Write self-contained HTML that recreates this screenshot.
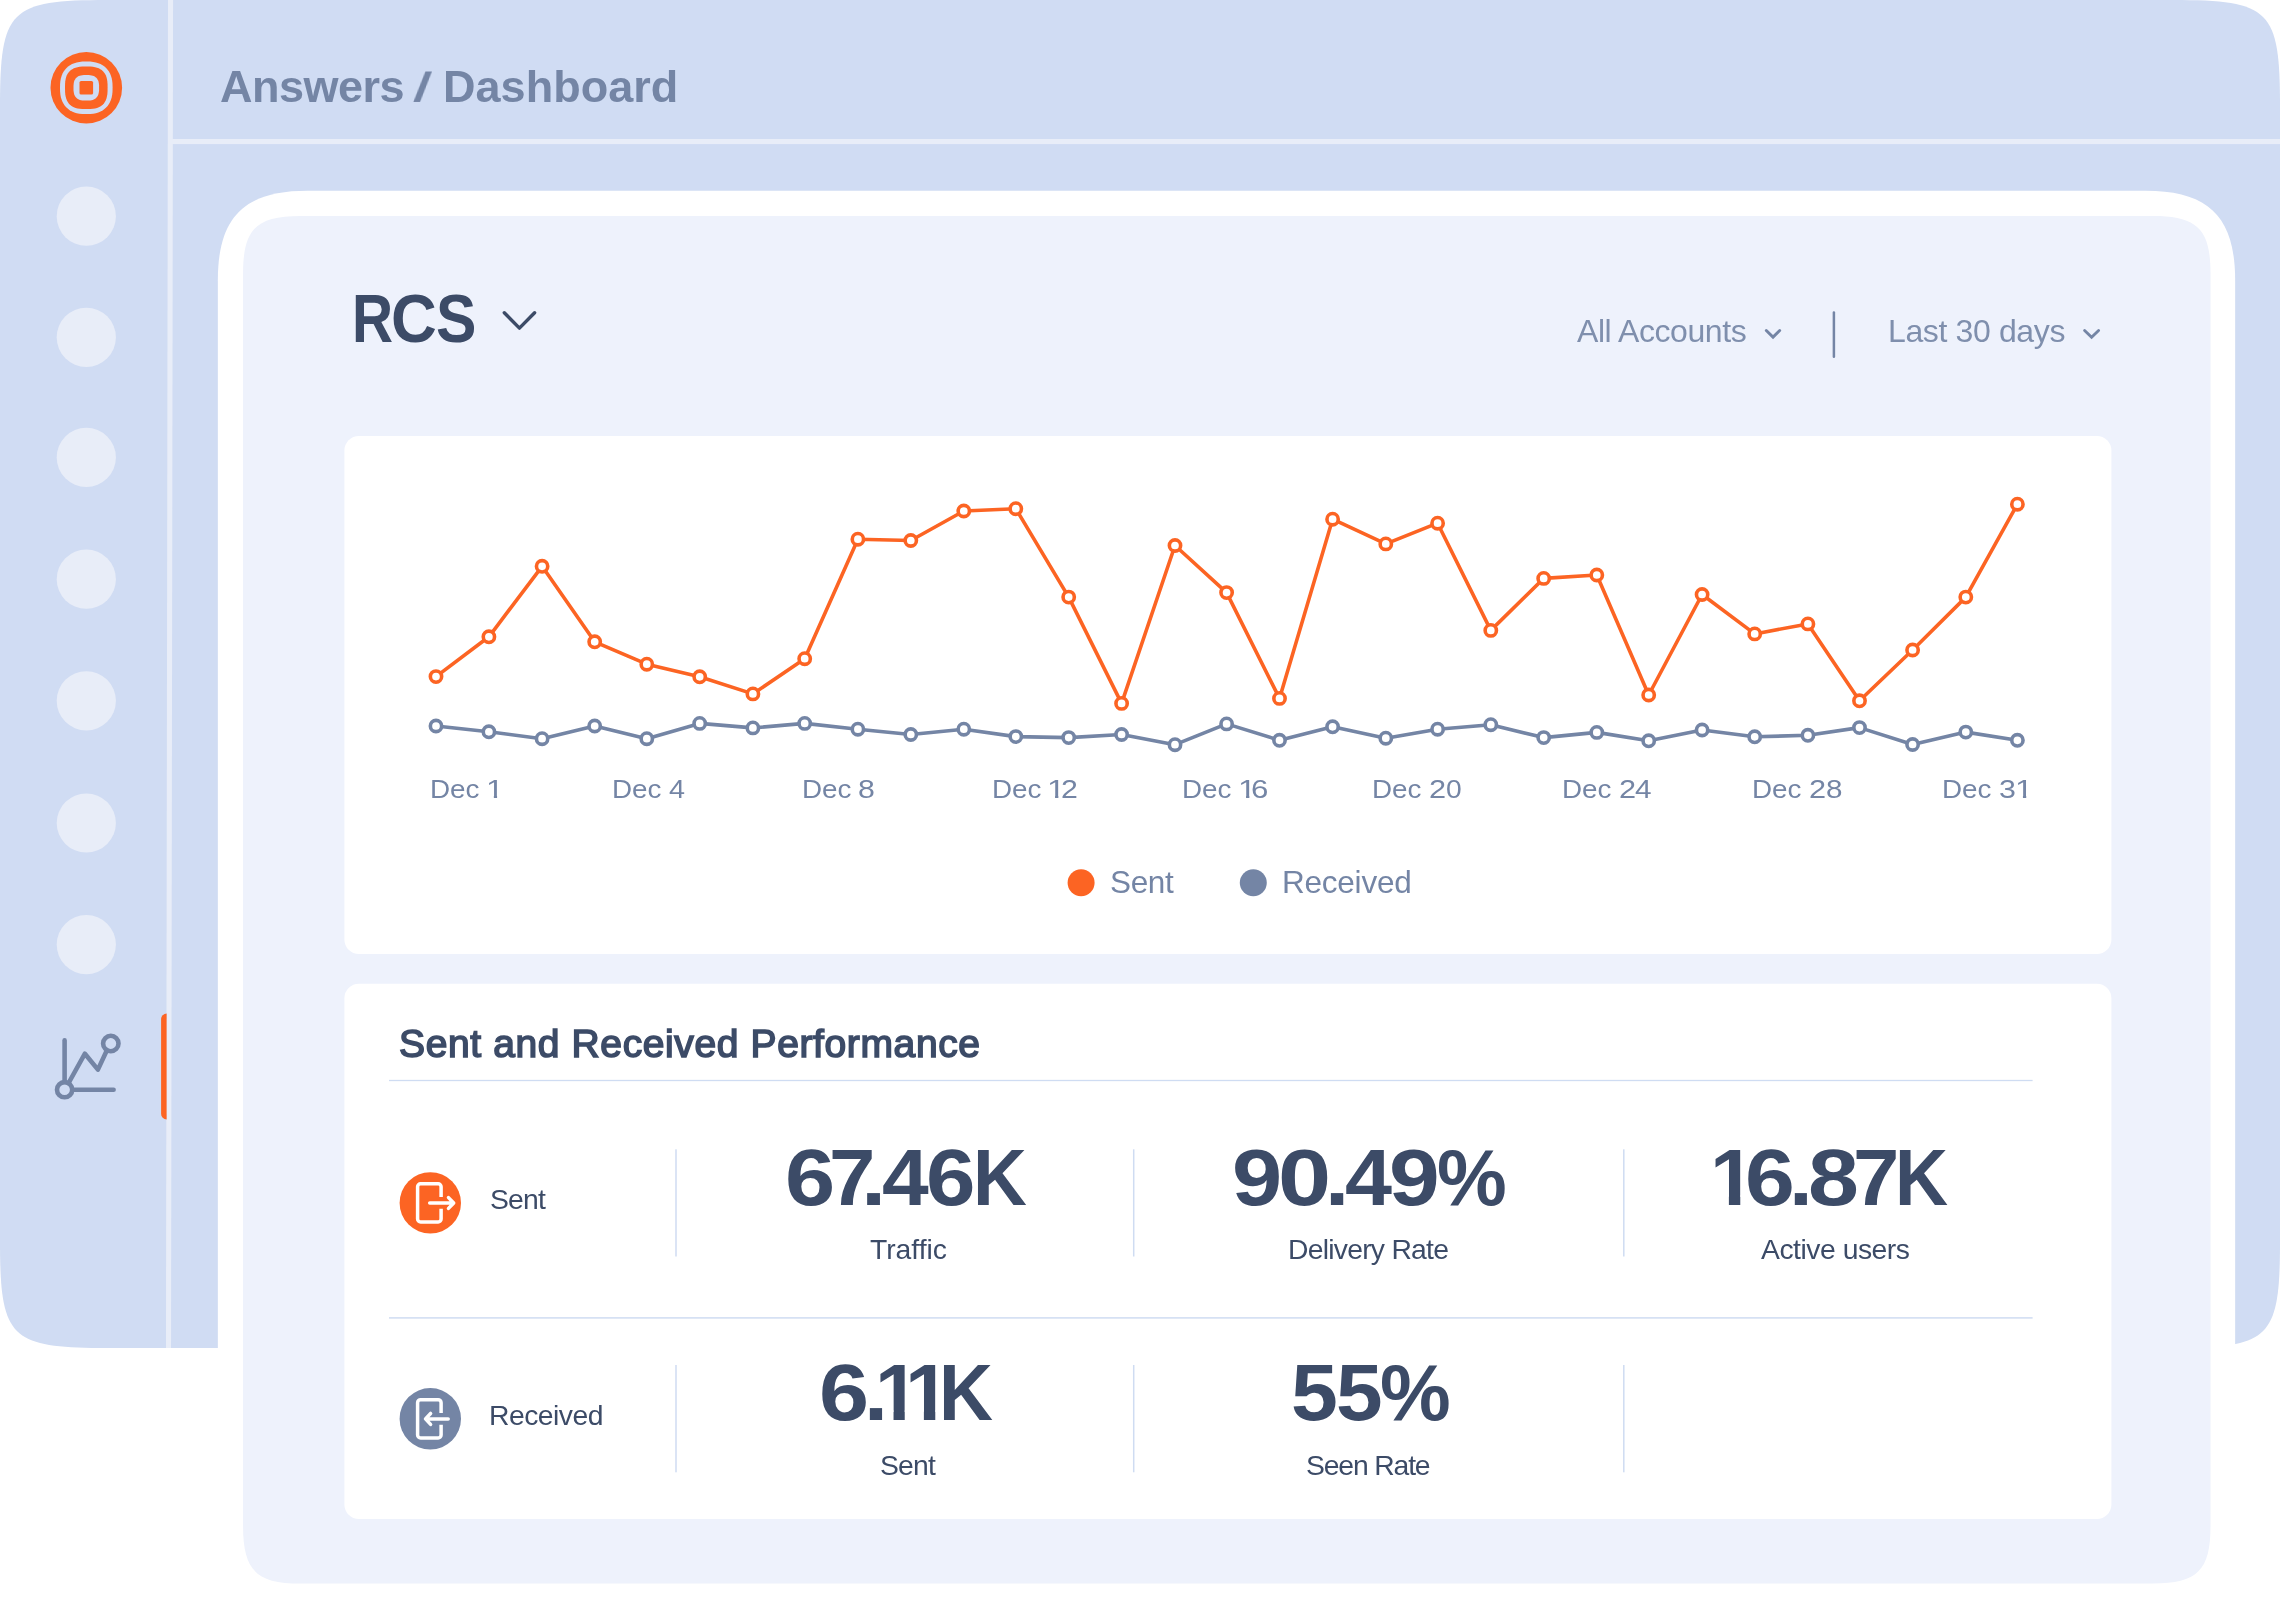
<!DOCTYPE html>
<html lang="en">
<head>
<meta charset="utf-8">
<title>Answers / Dashboard</title>
<style>
html,body{margin:0;padding:0;background:#fff;}
body{width:2280px;height:1609px;position:relative;overflow:hidden;font-family:"Liberation Sans",sans-serif;}
/* every visible piece is absolutely positioned in page coordinates; wrappers only give structure */
aside,header,main,section,nav,ul,li,figure,figcaption,dl,dt,dd,h1,h2,p{margin:0;padding:0;list-style:none;font-weight:400;}
.t{position:absolute;white-space:nowrap;line-height:1;margin:0;font-weight:400;will-change:transform;}
.bg{position:absolute;left:0;top:0;}
.big{font-weight:700;color:#3c4b67;width:0;height:0;}
.g{position:absolute;top:0;display:block;line-height:1;transform-origin:0 0;}
.dec{display:inline-block;transform:scaleX(1.042);transform-origin:0 50%;}
.oner{clip-path:polygon(0 0,100% 0,100% 0.75em,0.346em 0.75em,0.346em 100%,0.245em 100%,0.245em 0.75em,0 0.75em);}
.one{clip-path:polygon(0 0,100% 0,100% 0.722em,0.372em 0.722em,0.372em 100%,0.232em 100%,0.232em 0.722em,0 0.722em);}
</style>
</head>
<body>
<div class="app">
<svg class="bg shell" width="2280" height="1609" viewBox="0 0 2280 1609" aria-hidden="true"><path d="M2173 0C2270.37 0 2280 9.63 2280 107L2280 1241C2280 1338.37 2270.37 1348 2173 1348L107 1348C9.63 1348 0 1338.37 0 1241L0 107C0 9.63 9.63 0 107 0Z" fill="#d0dcf3"/><path d="M168 0H173.05L171.03 1348H165.98Z" fill="#e8edf8"/><rect x="171" y="139" width="2109" height="5.1" fill="#e8edf8"/></svg>
<aside class="sidebar">
<svg class="bg sidebar-art" width="2280" height="1609" viewBox="0 0 2280 1609" aria-hidden="true"><g class="logo"><circle cx="86.3" cy="87.8" r="35.8" fill="#fc6423"/><path d="M112.6 87.8L112.5 91.75L112.19 94.73L111.67 97.38L110.95 99.81L110.04 102.03L108.92 104.08L107.61 105.94L106.12 107.62L104.44 109.11L102.58 110.42L100.53 111.54L98.31 112.45L95.88 113.17L93.23 113.69L90.25 114L86.3 114.1L82.35 114L79.37 113.69L76.72 113.17L74.29 112.45L72.07 111.54L70.02 110.42L68.16 109.11L66.48 107.62L64.99 105.94L63.68 104.08L62.56 102.03L61.65 99.81L60.93 97.38L60.41 94.73L60.1 91.75L60 87.8L60.1 83.85L60.41 80.87L60.93 78.22L61.65 75.79L62.56 73.57L63.68 71.52L64.99 69.66L66.48 67.98L68.16 66.49L70.02 65.18L72.07 64.06L74.29 63.15L76.72 62.43L79.37 61.91L82.35 61.6L86.3 61.5L90.25 61.6L93.23 61.91L95.88 62.43L98.31 63.15L100.53 64.06L102.58 65.18L104.44 66.49L106.12 67.98L107.61 69.66L108.92 71.52L110.04 73.57L110.95 75.79L111.67 78.22L112.19 80.87L112.5 83.85Z" fill="#d0dcf3"/><path d="M107.6 87.8L107.53 91.85L107.31 94.43L106.94 96.6L106.43 98.53L105.77 100.25L104.97 101.8L104.02 103.19L102.93 104.43L101.69 105.52L100.3 106.47L98.75 107.27L97.03 107.93L95.1 108.44L92.93 108.81L90.35 109.03L86.3 109.1L82.25 109.03L79.67 108.81L77.5 108.44L75.57 107.93L73.85 107.27L72.3 106.47L70.91 105.52L69.67 104.43L68.58 103.19L67.63 101.8L66.83 100.25L66.17 98.53L65.66 96.6L65.29 94.43L65.07 91.85L65 87.8L65.07 83.75L65.29 81.17L65.66 79L66.17 77.07L66.83 75.35L67.63 73.8L68.58 72.41L69.67 71.17L70.91 70.08L72.3 69.13L73.85 68.33L75.57 67.67L77.5 67.16L79.67 66.79L82.25 66.57L86.3 66.5L90.35 66.57L92.93 66.79L95.1 67.16L97.03 67.67L98.75 68.33L100.3 69.13L101.69 70.08L102.93 71.17L104.02 72.41L104.97 73.8L105.77 75.35L106.43 77.07L106.94 79L107.31 81.17L107.53 83.75Z" fill="#fc6423"/><path d="M99.1 87.8L99.06 90.24L98.92 91.78L98.7 93.09L98.4 94.25L98 95.28L97.52 96.21L96.95 97.05L96.29 97.79L95.55 98.45L94.71 99.02L93.78 99.5L92.75 99.9L91.59 100.2L90.28 100.42L88.74 100.56L86.3 100.6L83.86 100.56L82.32 100.42L81.01 100.2L79.85 99.9L78.82 99.5L77.89 99.02L77.05 98.45L76.31 97.79L75.65 97.05L75.08 96.21L74.6 95.28L74.2 94.25L73.9 93.09L73.68 91.78L73.54 90.24L73.5 87.8L73.54 85.36L73.68 83.82L73.9 82.51L74.2 81.35L74.6 80.32L75.08 79.39L75.65 78.55L76.31 77.81L77.05 77.15L77.89 76.58L78.82 76.1L79.85 75.7L81.01 75.4L82.32 75.18L83.86 75.04L86.3 75L88.74 75.04L90.28 75.18L91.59 75.4L92.75 75.7L93.78 76.1L94.71 76.58L95.55 77.15L96.29 77.81L96.95 78.55L97.52 79.39L98 80.32L98.4 81.35L98.7 82.51L98.92 83.82L99.06 85.36Z" fill="#d0dcf3"/><rect x="79.5" y="81" width="13.6" height="13.6" rx="1.6" fill="#fc6423"/></g><g class="nav-placeholders"><circle cx="86.3" cy="216.2" r="29.6" fill="#e8edf8"/><circle cx="86.3" cy="337.3" r="29.6" fill="#e8edf8"/><circle cx="86.3" cy="457.4" r="29.6" fill="#e8edf8"/><circle cx="86.3" cy="579.2" r="29.6" fill="#e8edf8"/><circle cx="86.3" cy="700.8" r="29.6" fill="#e8edf8"/><circle cx="86.3" cy="823.0" r="29.6" fill="#e8edf8"/><circle cx="86.3" cy="944.6" r="29.6" fill="#e8edf8"/></g><g class="nav-active"><path d="M166.6 1013.6a5.5 5.5 0 0 0 -5.5 5.5v94.8a5.5 5.5 0 0 0 5.5 5.5z" fill="#fc6423"/><g fill="none" stroke="#7485a5" stroke-width="4.6" stroke-linecap="round" stroke-linejoin="round"><path d="M64.6 1040.4V1082"/><path d="M72.4 1089.7H113.6"/><path d="M68.6 1083L84.9 1053.7L97.9 1069.6L106.9 1050.3"/><circle cx="64.6" cy="1089.7" r="7.6"/><circle cx="110.8" cy="1043.5" r="7.7"/></g></g></svg>
</aside>
<header class="topbar"><h1>
<span class="t" style="left:220px;top:63.91px;font-size:45px;color:#7485a5;font-weight:700;letter-spacing:-0.51px;">Answers</span>
<span class="t big" style="left:0;top:63.11px;font-size:45px;color:#7485a5"><span class="g" style="left:413px;transform-origin:0 38.09px;transform:skewX(-7.7deg) scale(1.236,0.922)">/</span></span>
<span class="t" style="left:443px;top:63.91px;font-size:45px;color:#7485a5;font-weight:700;letter-spacing:0.03px;">Dashboard</span>
</h1></header>
<main class="content">
<svg class="bg panels" width="2280" height="1609" viewBox="0 0 2280 1609" aria-hidden="true"><path d="M2145.65 190.85C2208.75 190.85 2235.15 217.25 2235.15 280.35L2235.15 1690.85L217.85 1690.85L217.85 280.35C217.85 217.25 244.25 190.85 307.35 190.85Z" fill="#fff"/><path d="M2153 215.9C2197.28 215.9 2210.5 229.12 2210.5 273.4L2210.5 1526.1C2210.5 1570.38 2197.28 1583.6 2153 1583.6L300.55 1583.6C256.28 1583.6 243.05 1570.38 243.05 1526.1L243.05 273.4C243.05 229.12 256.28 215.9 300.55 215.9Z" fill="#eef2fc"/><rect x="344.4" y="436" width="1767" height="518.05" rx="14.5" fill="#fff"/><rect x="344.4" y="983.8" width="1767" height="535.2" rx="14.5" fill="#fff"/></svg>
<div class="toolbar">
<svg class="bg toolbar-art" width="2280" height="1609" viewBox="0 0 2280 1609" aria-hidden="true"><path d="M504.3 312.7L519.45 328.1L534.6 312.7" fill="none" stroke="#3c4b67" stroke-width="3.4" stroke-linecap="round" stroke-linejoin="round"/><path d="M1766.3 330.5L1773 337.1L1779.7 330.5" fill="none" stroke="#7485a5" stroke-width="2.9" stroke-linecap="round" stroke-linejoin="miter"/><rect x="1832.65" y="311.2" width="2.5" height="46.7" rx="1.25" fill="#7485a5"/><path d="M2084.6 330.5L2091.6 337.2L2098.6 330.5" fill="none" stroke="#7485a5" stroke-width="2.9" stroke-linecap="round" stroke-linejoin="miter"/></svg>
<div class="t big channel" style="left:0;top:284.14px;font-size:68px;"><span class="g" style="left:352.2px;transform:scaleX(0.8363)">R</span><span class="g" style="left:391.3px;transform:scaleX(0.9312)">C</span><span class="g" style="left:436.15px;transform:scaleX(0.8910)">S</span></div>
<div class="t filter" style="left:1577px;top:314.61px;font-size:32px;color:#7f8fad;letter-spacing:-0.42px;">All Accounts</div>
<div class="t filter" style="left:1888px;top:314.61px;font-size:32px;color:#7f8fad;letter-spacing:-0.37px;">Last 30 days</div>
</div>
<section class="card chart">
<svg class="bg chart-art" width="2280" height="1609" viewBox="0 0 2280 1609" aria-hidden="true"><g class="series received"><path d="M436 726L488.9 731.8L542.1 738.7L594.7 726L646.8 738.7L699.7 723.4L752.9 727.9L804.7 723.4L857.9 729.2L910.8 734.5L963.8 729.2L1015.8 736.6L1068.7 737.6L1121.6 734.5L1175 744.7L1226.6 723.9L1279.5 740.3L1332.6 726.8L1385.8 738.2L1437.6 729.2L1490.8 724.7L1543.7 737.6L1596.8 732.4L1648.7 740.8L1702.1 730L1754.7 736.8L1807.9 735.3L1859.5 727.6L1912.6 744.5L1965.8 732.1L2017.4 740.3" fill="none" stroke="#7485a5" stroke-width="3.6" stroke-linejoin="round" stroke-linecap="round"/><circle cx="436" cy="726" r="5.65" fill="#fff" stroke="#7485a5" stroke-width="3.6"/><circle cx="488.9" cy="731.8" r="5.65" fill="#fff" stroke="#7485a5" stroke-width="3.6"/><circle cx="542.1" cy="738.7" r="5.65" fill="#fff" stroke="#7485a5" stroke-width="3.6"/><circle cx="594.7" cy="726" r="5.65" fill="#fff" stroke="#7485a5" stroke-width="3.6"/><circle cx="646.8" cy="738.7" r="5.65" fill="#fff" stroke="#7485a5" stroke-width="3.6"/><circle cx="699.7" cy="723.4" r="5.65" fill="#fff" stroke="#7485a5" stroke-width="3.6"/><circle cx="752.9" cy="727.9" r="5.65" fill="#fff" stroke="#7485a5" stroke-width="3.6"/><circle cx="804.7" cy="723.4" r="5.65" fill="#fff" stroke="#7485a5" stroke-width="3.6"/><circle cx="857.9" cy="729.2" r="5.65" fill="#fff" stroke="#7485a5" stroke-width="3.6"/><circle cx="910.8" cy="734.5" r="5.65" fill="#fff" stroke="#7485a5" stroke-width="3.6"/><circle cx="963.8" cy="729.2" r="5.65" fill="#fff" stroke="#7485a5" stroke-width="3.6"/><circle cx="1015.8" cy="736.6" r="5.65" fill="#fff" stroke="#7485a5" stroke-width="3.6"/><circle cx="1068.7" cy="737.6" r="5.65" fill="#fff" stroke="#7485a5" stroke-width="3.6"/><circle cx="1121.6" cy="734.5" r="5.65" fill="#fff" stroke="#7485a5" stroke-width="3.6"/><circle cx="1175" cy="744.7" r="5.65" fill="#fff" stroke="#7485a5" stroke-width="3.6"/><circle cx="1226.6" cy="723.9" r="5.65" fill="#fff" stroke="#7485a5" stroke-width="3.6"/><circle cx="1279.5" cy="740.3" r="5.65" fill="#fff" stroke="#7485a5" stroke-width="3.6"/><circle cx="1332.6" cy="726.8" r="5.65" fill="#fff" stroke="#7485a5" stroke-width="3.6"/><circle cx="1385.8" cy="738.2" r="5.65" fill="#fff" stroke="#7485a5" stroke-width="3.6"/><circle cx="1437.6" cy="729.2" r="5.65" fill="#fff" stroke="#7485a5" stroke-width="3.6"/><circle cx="1490.8" cy="724.7" r="5.65" fill="#fff" stroke="#7485a5" stroke-width="3.6"/><circle cx="1543.7" cy="737.6" r="5.65" fill="#fff" stroke="#7485a5" stroke-width="3.6"/><circle cx="1596.8" cy="732.4" r="5.65" fill="#fff" stroke="#7485a5" stroke-width="3.6"/><circle cx="1648.7" cy="740.8" r="5.65" fill="#fff" stroke="#7485a5" stroke-width="3.6"/><circle cx="1702.1" cy="730" r="5.65" fill="#fff" stroke="#7485a5" stroke-width="3.6"/><circle cx="1754.7" cy="736.8" r="5.65" fill="#fff" stroke="#7485a5" stroke-width="3.6"/><circle cx="1807.9" cy="735.3" r="5.65" fill="#fff" stroke="#7485a5" stroke-width="3.6"/><circle cx="1859.5" cy="727.6" r="5.65" fill="#fff" stroke="#7485a5" stroke-width="3.6"/><circle cx="1912.6" cy="744.5" r="5.65" fill="#fff" stroke="#7485a5" stroke-width="3.6"/><circle cx="1965.8" cy="732.1" r="5.65" fill="#fff" stroke="#7485a5" stroke-width="3.6"/><circle cx="2017.4" cy="740.3" r="5.65" fill="#fff" stroke="#7485a5" stroke-width="3.6"/></g><g class="series sent"><path d="M436 676.6L488.9 636.8L542.1 566.3L594.7 641.8L646.8 664.2L699.7 676.8L752.9 693.9L804.7 658.7L857.9 539.2L910.8 540.5L963.8 511L1015.8 508.7L1068.7 597.1L1121.6 703.4L1175 545.5L1226.6 592.6L1279.5 698.4L1332.6 519.2L1385.8 543.9L1437.6 523.2L1490.8 630.4L1543.7 578.4L1596.8 575L1648.7 695L1702.1 594.5L1754.7 633.9L1807.9 623.9L1859.5 700.8L1912.6 650L1965.8 597.1L2017.4 504.2" fill="none" stroke="#fc6423" stroke-width="3.6" stroke-linejoin="round" stroke-linecap="round"/><circle cx="436" cy="676.6" r="5.65" fill="#fff" stroke="#fc6423" stroke-width="3.6"/><circle cx="488.9" cy="636.8" r="5.65" fill="#fff" stroke="#fc6423" stroke-width="3.6"/><circle cx="542.1" cy="566.3" r="5.65" fill="#fff" stroke="#fc6423" stroke-width="3.6"/><circle cx="594.7" cy="641.8" r="5.65" fill="#fff" stroke="#fc6423" stroke-width="3.6"/><circle cx="646.8" cy="664.2" r="5.65" fill="#fff" stroke="#fc6423" stroke-width="3.6"/><circle cx="699.7" cy="676.8" r="5.65" fill="#fff" stroke="#fc6423" stroke-width="3.6"/><circle cx="752.9" cy="693.9" r="5.65" fill="#fff" stroke="#fc6423" stroke-width="3.6"/><circle cx="804.7" cy="658.7" r="5.65" fill="#fff" stroke="#fc6423" stroke-width="3.6"/><circle cx="857.9" cy="539.2" r="5.65" fill="#fff" stroke="#fc6423" stroke-width="3.6"/><circle cx="910.8" cy="540.5" r="5.65" fill="#fff" stroke="#fc6423" stroke-width="3.6"/><circle cx="963.8" cy="511" r="5.65" fill="#fff" stroke="#fc6423" stroke-width="3.6"/><circle cx="1015.8" cy="508.7" r="5.65" fill="#fff" stroke="#fc6423" stroke-width="3.6"/><circle cx="1068.7" cy="597.1" r="5.65" fill="#fff" stroke="#fc6423" stroke-width="3.6"/><circle cx="1121.6" cy="703.4" r="5.65" fill="#fff" stroke="#fc6423" stroke-width="3.6"/><circle cx="1175" cy="545.5" r="5.65" fill="#fff" stroke="#fc6423" stroke-width="3.6"/><circle cx="1226.6" cy="592.6" r="5.65" fill="#fff" stroke="#fc6423" stroke-width="3.6"/><circle cx="1279.5" cy="698.4" r="5.65" fill="#fff" stroke="#fc6423" stroke-width="3.6"/><circle cx="1332.6" cy="519.2" r="5.65" fill="#fff" stroke="#fc6423" stroke-width="3.6"/><circle cx="1385.8" cy="543.9" r="5.65" fill="#fff" stroke="#fc6423" stroke-width="3.6"/><circle cx="1437.6" cy="523.2" r="5.65" fill="#fff" stroke="#fc6423" stroke-width="3.6"/><circle cx="1490.8" cy="630.4" r="5.65" fill="#fff" stroke="#fc6423" stroke-width="3.6"/><circle cx="1543.7" cy="578.4" r="5.65" fill="#fff" stroke="#fc6423" stroke-width="3.6"/><circle cx="1596.8" cy="575" r="5.65" fill="#fff" stroke="#fc6423" stroke-width="3.6"/><circle cx="1648.7" cy="695" r="5.65" fill="#fff" stroke="#fc6423" stroke-width="3.6"/><circle cx="1702.1" cy="594.5" r="5.65" fill="#fff" stroke="#fc6423" stroke-width="3.6"/><circle cx="1754.7" cy="633.9" r="5.65" fill="#fff" stroke="#fc6423" stroke-width="3.6"/><circle cx="1807.9" cy="623.9" r="5.65" fill="#fff" stroke="#fc6423" stroke-width="3.6"/><circle cx="1859.5" cy="700.8" r="5.65" fill="#fff" stroke="#fc6423" stroke-width="3.6"/><circle cx="1912.6" cy="650" r="5.65" fill="#fff" stroke="#fc6423" stroke-width="3.6"/><circle cx="1965.8" cy="597.1" r="5.65" fill="#fff" stroke="#fc6423" stroke-width="3.6"/><circle cx="2017.4" cy="504.2" r="5.65" fill="#fff" stroke="#fc6423" stroke-width="3.6"/></g><circle cx="1081.1" cy="882.7" r="13.5" fill="#fc6423"/><circle cx="1253.3" cy="882.7" r="13.5" fill="#7485a5"/></svg>
<div class="x-axis">
<div class="t" style="left:429.91px;top:775.8px;font-size:26.7px;color:#7485a5;width:0"><span class="dec">Dec</span> <span class="g oner" style="left:56.21px;transform:scaleX(1.1990)">1</span></div>
<div class="t" style="left:612.01px;top:775.8px;font-size:26.7px;color:#7485a5;width:0"><span class="dec">Dec</span> <span class="g" style="left:57.03px;transform:scaleX(1.0777)">4</span></div>
<div class="t" style="left:802.11px;top:775.8px;font-size:26.7px;color:#7485a5;width:0"><span class="dec">Dec</span> <span class="g" style="left:56.28px;transform:scaleX(1.1334)">8</span></div>
<div class="t" style="left:991.81px;top:775.8px;font-size:26.7px;color:#7485a5;width:0"><span class="dec">Dec</span> <span class="g oner" style="left:55.13px;transform:scaleX(1.2297)">1</span><span class="g" style="left:68.57px;transform:scaleX(1.1345)">2</span></div>
<div class="t" style="left:1182.01px;top:775.8px;font-size:26.7px;color:#7485a5;width:0"><span class="dec">Dec</span> <span class="g oner" style="left:55.53px;transform:scaleX(1.2297)">1</span><span class="g" style="left:68.51px;transform:scaleX(1.1688)">6</span></div>
<div class="t" style="left:1372.21px;top:775.8px;font-size:26.7px;color:#7485a5;width:0"><span class="dec">Dec</span> <span class="g" style="left:56.54px;transform:scaleX(1.1510)">2</span><span class="g" style="left:73.79px;transform:scaleX(1.0577)">0</span></div>
<div class="t" style="left:1562.01px;top:775.8px;font-size:26.7px;color:#7485a5;width:0"><span class="dec">Dec</span> <span class="g" style="left:56.54px;transform:scaleX(1.1510)">2</span><span class="g" style="left:72.91px;transform:scaleX(1.1149)">4</span></div>
<div class="t" style="left:1752.01px;top:775.8px;font-size:26.7px;color:#7485a5;width:0"><span class="dec">Dec</span> <span class="g" style="left:57.14px;transform:scaleX(1.1510)">2</span><span class="g" style="left:73.6px;transform:scaleX(1.1095)">8</span></div>
<div class="t" style="left:1942.21px;top:775.8px;font-size:26.7px;color:#7485a5;width:0"><span class="dec">Dec</span> <span class="g" style="left:56.53px;transform:scaleX(1.1375)">3</span><span class="g oner" style="left:73.47px;transform:scaleX(1.2144)">1</span></div>
</div>
<div class="legend">
<span class="t" style="left:1110px;top:867.04px;font-size:31.5px;color:#7485a5;letter-spacing:-0.38px;">Sent</span>
<span class="t" style="left:1282px;top:867.04px;font-size:31.5px;color:#7485a5;letter-spacing:-0.23px;">Received</span>
</div>
</section>
<section class="card stats">
<svg class="bg stats-art" width="2280" height="1609" viewBox="0 0 2280 1609" aria-hidden="true"><rect x="389" y="1079.85" width="1643.6" height="1.3" fill="#cfdcf2"/><rect x="389" y="1317.15" width="1643.6" height="1.5" fill="#cfdcf2"/><rect x="675.25" y="1149.3" width="1.5" height="107.2" fill="#cfdcf2"/><rect x="675.25" y="1365" width="1.5" height="107.3" fill="#cfdcf2"/><rect x="1132.95" y="1149.3" width="1.5" height="107.2" fill="#cfdcf2"/><rect x="1132.95" y="1365" width="1.5" height="107.3" fill="#cfdcf2"/><rect x="1623.05" y="1149.3" width="1.5" height="107.2" fill="#cfdcf2"/><rect x="1623.05" y="1365" width="1.5" height="107.3" fill="#cfdcf2"/><circle cx="430.3" cy="1202.9" r="30.7" fill="#fc6423"/><g transform="translate(430.3 1202.9)" fill="none" stroke="#fff" stroke-width="3.5"><path d="M10.8 -5.9V-16.1a3 3 0 0 0 -3 -3H-9.7a3 3 0 0 0 -3 3V16.1a3 3 0 0 0 3 3H7.8a3 3 0 0 0 3 -3V5.9"/><path d="M-0.6 0.1H23M18.2 -5.3L23.4 0.1L18.2 5.5" stroke-linecap="round" stroke-linejoin="round"/></g><circle cx="430.3" cy="1418.8" r="30.7" fill="#7485a5"/><g transform="translate(430.3 1418.8)" fill="none" stroke="#fff" stroke-width="3.5"><path d="M10.8 -5.9V-16.1a3 3 0 0 0 -3 -3H-9.7a3 3 0 0 0 -3 3V16.1a3 3 0 0 0 3 3H7.8a3 3 0 0 0 3 -3V5.9"/><path d="M17.9 0.1H-4.4M0.3 -5.35L-4.8 0.1L0.3 5.55" stroke-linecap="round" stroke-linejoin="round"/></g></svg>
<h2 class="t" style="left:399px;top:1023.59px;font-size:39px;color:#3c4b67;-webkit-text-stroke:1.6px #3c4b67;letter-spacing:0.62px;">Sent and Received Performance</h2>
<div class="row sent">
<div class="t row-label" style="left:490px;top:1185.04px;font-size:28.3px;color:#3c4b67;letter-spacing:-0.81px;">Sent</div>
<div class="metric">
<div class="t big" style="left:0;top:1137.7px;font-size:79.5px;"><span class="g" style="left:785px;transform:scaleX(1.1345)">6</span><span class="g" style="left:829.12px;transform:scaleX(1.0481)">7</span><span class="g" style="left:861.04px;transform:scaleX(1.1410)">.</span><span class="g" style="left:881.63px;transform:scaleX(1.0567)">4</span><span class="g" style="left:926.14px;transform:scaleX(1.1189)">6</span><span class="g" style="left:973.11px;transform:scaleX(0.9385)">K</span></div>
<div class="t metric-label" style="left:870px;top:1234.74px;font-size:28.3px;color:#3c4b67;letter-spacing:-0.03px;">Traffic</div>
</div>
<div class="metric">
<div class="t big" style="left:0;top:1137.7px;font-size:79.5px;"><span class="g" style="left:1232.27px;transform:scaleX(1.1348)">9</span><span class="g" style="left:1278.22px;transform:scaleX(1.2008)">0</span><span class="g" style="left:1325.08px;transform:scaleX(1.0964)">.</span><span class="g" style="left:1344.82px;transform:scaleX(1.0638)">4</span><span class="g" style="left:1389.44px;transform:scaleX(1.1478)">9</span><span class="g" style="left:1437.15px;transform:scaleX(0.9863)">%</span></div>
<div class="t metric-label" style="left:1288px;top:1234.64px;font-size:28.3px;color:#3c4b67;letter-spacing:-0.74px;">Delivery Rate</div>
</div>
<div class="metric">
<div class="t big" style="left:0;top:1137.7px;font-size:79.5px;"><span class="g one" style="left:1710.44px;transform:scaleX(1.0238)">1</span><span class="g" style="left:1744.52px;transform:scaleX(1.1267)">6</span><span class="g" style="left:1789.08px;transform:scaleX(1.0786)">.</span><span class="g" style="left:1808.19px;transform:scaleX(1.1517)">8</span><span class="g" style="left:1852.52px;transform:scaleX(1.0481)">7</span><span class="g" style="left:1895.08px;transform:scaleX(0.9249)">K</span></div>
<div class="t metric-label" style="left:1761px;top:1234.64px;font-size:28.3px;color:#3c4b67;letter-spacing:-0.47px;">Active users</div>
</div>
</div>
<div class="row received">
<div class="t row-label" style="left:489px;top:1400.94px;font-size:28.3px;color:#3c4b67;letter-spacing:-0.51px;">Received</div>
<div class="metric">
<div class="t big" style="left:0;top:1352.5px;font-size:79.5px;"><span class="g" style="left:819.4px;transform:scaleX(1.1319)">6</span><span class="g" style="left:864.33px;transform:scaleX(1.0875)">.</span><span class="g one" style="left:875.29px;transform:scaleX(1.0051)">1</span><span class="g one" style="left:904.74px;transform:scaleX(1.0238)">1</span><span class="g" style="left:939.1px;transform:scaleX(0.9405)">K</span></div>
<div class="t metric-label" style="left:880px;top:1450.94px;font-size:28.3px;color:#3c4b67;letter-spacing:-0.76px;">Sent</div>
</div>
<div class="metric">
<div class="t big" style="left:0;top:1352.5px;font-size:79.5px;"><span class="g" style="left:1291.21px;transform:scaleX(1.0593)">5</span><span class="g" style="left:1335.62px;transform:scaleX(1.0542)">5</span><span class="g" style="left:1380.42px;transform:scaleX(0.9998)">%</span></div>
<div class="t metric-label" style="left:1306px;top:1450.74px;font-size:28.3px;color:#3c4b67;letter-spacing:-1.14px;">Seen Rate</div>
</div>
</div>
</section>
</main>
</div>
</body>
</html>
